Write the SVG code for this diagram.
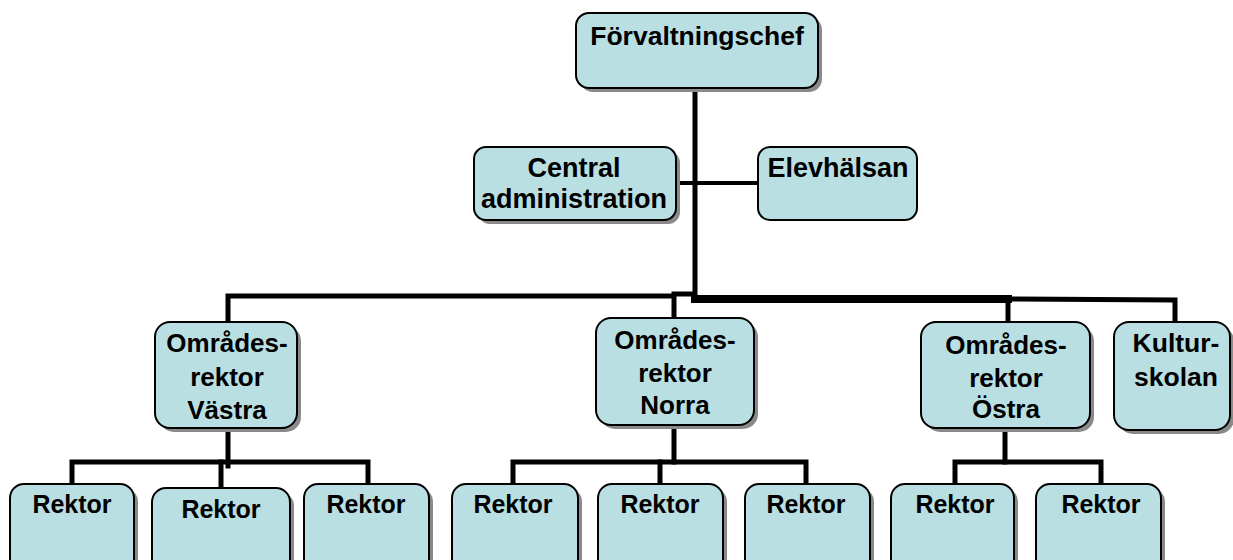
<svg xmlns="http://www.w3.org/2000/svg" width="1233" height="560" viewBox="0 0 1233 560">
<defs>
<style>
.shadow{fill:#8a8a8a;}
.box{fill:#b9dfe2;stroke:#000;stroke-width:2;}
.t{font-family:"Liberation Sans",Arial,sans-serif;font-weight:bold;font-size:25px;fill:#000;text-anchor:middle;}
.l{font-size:26.5px;}
.m{font-size:26px;}
.c{stroke:#000;fill:none;stroke-linecap:square;}
</style>
</defs>
<rect width="1233" height="560" fill="#fff"/>
<g id="connectors">
<line class="c" x1="695" y1="88" x2="695" y2="300" stroke-width="5"/>
<line class="c" x1="676" y1="183" x2="758" y2="183" stroke-width="4"/>
<polyline class="c" points="228,322 228,296 674,296 674,318" stroke-width="5"/>
<polyline class="c" points="674,294 693,294" stroke-width="5"/>
<line class="c" x1="695" y1="299" x2="1008" y2="299" stroke-width="8"/>
<polyline class="c" points="1008,299 1175,300 1175,322" stroke-width="5"/>
<line class="c" x1="1008" y1="299" x2="1008" y2="322" stroke-width="5"/>
<line class="c" x1="228" y1="428" x2="228" y2="466" stroke-width="5"/>
<polyline class="c" points="72,484 72,462 368,462 368,484" stroke-width="5"/>
<line class="c" x1="221" y1="462" x2="221" y2="488" stroke-width="5"/>
<line class="c" x1="674" y1="425" x2="674" y2="462" stroke-width="5"/>
<polyline class="c" points="513,484 513,462 806,462 806,484" stroke-width="5"/>
<line class="c" x1="660" y1="462" x2="660" y2="484" stroke-width="5"/>
<line class="c" x1="1005" y1="428" x2="1005" y2="462" stroke-width="5"/>
<polyline class="c" points="955,484 955,462 1101,462 1101,484" stroke-width="5"/>
</g>
<g id="forvaltningschef">
<rect class="shadow" x="580" y="17" width="242" height="75" rx="13"/>
<rect class="box" x="576" y="13" width="242" height="75" rx="13"/>
<text class="t l" x="697" y="45">Förvaltningschef</text>
</g>
<g id="central-administration">
<rect class="shadow" x="478" y="151" width="202" height="73" rx="12"/>
<rect class="box" x="474" y="147" width="202" height="73" rx="12"/>
<text class="t" x="574" y="177" style="font-size:27px">Central</text>
<text class="t" x="574" y="208" style="font-size:27px">administration</text>
</g>
<g id="elevhalsan">
<rect class="box" x="758" y="147" width="159" height="73" rx="12"/>
<text class="t" x="838" y="177" style="font-size:27px">Elevhälsan</text>
</g>
<g id="omradesrektor-vastra">
<rect class="shadow" x="159" y="326" width="142" height="106" rx="15"/>
<rect class="box" x="155" y="322" width="142" height="106" rx="15"/>
<text class="t m" x="227" y="352">Områdes-</text>
<text class="t m" x="227" y="386">rektor</text>
<text class="t m" x="227" y="419">Västra</text>
</g>
<g id="omradesrektor-norra">
<rect class="shadow" x="600" y="322" width="158" height="107" rx="15"/>
<rect class="box" x="596" y="318" width="158" height="107" rx="15"/>
<text class="t m" x="675" y="349">Områdes-</text>
<text class="t m" x="675" y="382">rektor</text>
<text class="t m" x="675" y="414">Norra</text>
</g>
<g id="omradesrektor-ostra">
<rect class="shadow" x="925" y="326" width="169" height="106" rx="15"/>
<rect class="box" x="921" y="322" width="169" height="106" rx="15"/>
<text class="t m" x="1006" y="354">Områdes-</text>
<text class="t m" x="1006" y="387">rektor</text>
<text class="t m" x="1006" y="418">Östra</text>
</g>
<g id="kulturskolan">
<rect class="shadow" x="1118" y="326" width="116" height="108" rx="15"/>
<rect class="box" x="1114" y="322" width="116" height="108" rx="15"/>
<text class="t l" x="1176" y="352">Kultur-</text>
<text class="t l" x="1176" y="386">skolan</text>
</g>
<g id="rektor-1">
<rect class="shadow" x="14" y="488" width="124" height="90" rx="14"/>
<rect class="box" x="10" y="484" width="124" height="90" rx="14"/>
<text class="t" x="72" y="513">Rektor</text>
</g>
<g id="rektor-2">
<rect class="shadow" x="156" y="492" width="138" height="90" rx="14"/>
<rect class="box" x="152" y="488" width="138" height="90" rx="14"/>
<text class="t" x="221" y="518">Rektor</text>
</g>
<g id="rektor-3">
<rect class="shadow" x="308" y="488" width="125" height="90" rx="14"/>
<rect class="box" x="304" y="484" width="125" height="90" rx="14"/>
<text class="t" x="366" y="513">Rektor</text>
</g>
<g id="rektor-4">
<rect class="shadow" x="456" y="488" width="126" height="90" rx="14"/>
<rect class="box" x="452" y="484" width="126" height="90" rx="14"/>
<text class="t" x="513" y="513">Rektor</text>
</g>
<g id="rektor-5">
<rect class="shadow" x="602" y="488" width="125" height="90" rx="14"/>
<rect class="box" x="598" y="484" width="125" height="90" rx="14"/>
<text class="t" x="660" y="513">Rektor</text>
</g>
<g id="rektor-6">
<rect class="shadow" x="749" y="488" width="125" height="90" rx="14"/>
<rect class="box" x="745" y="484" width="125" height="90" rx="14"/>
<text class="t" x="806" y="513">Rektor</text>
</g>
<g id="rektor-7">
<rect class="shadow" x="895" y="488" width="123" height="90" rx="14"/>
<rect class="box" x="891" y="484" width="123" height="90" rx="14"/>
<text class="t" x="955" y="513">Rektor</text>
</g>
<g id="rektor-8">
<rect class="shadow" x="1040" y="488" width="125" height="90" rx="14"/>
<rect class="box" x="1036" y="484" width="125" height="90" rx="14"/>
<text class="t" x="1101" y="513">Rektor</text>
</g>
</svg>
